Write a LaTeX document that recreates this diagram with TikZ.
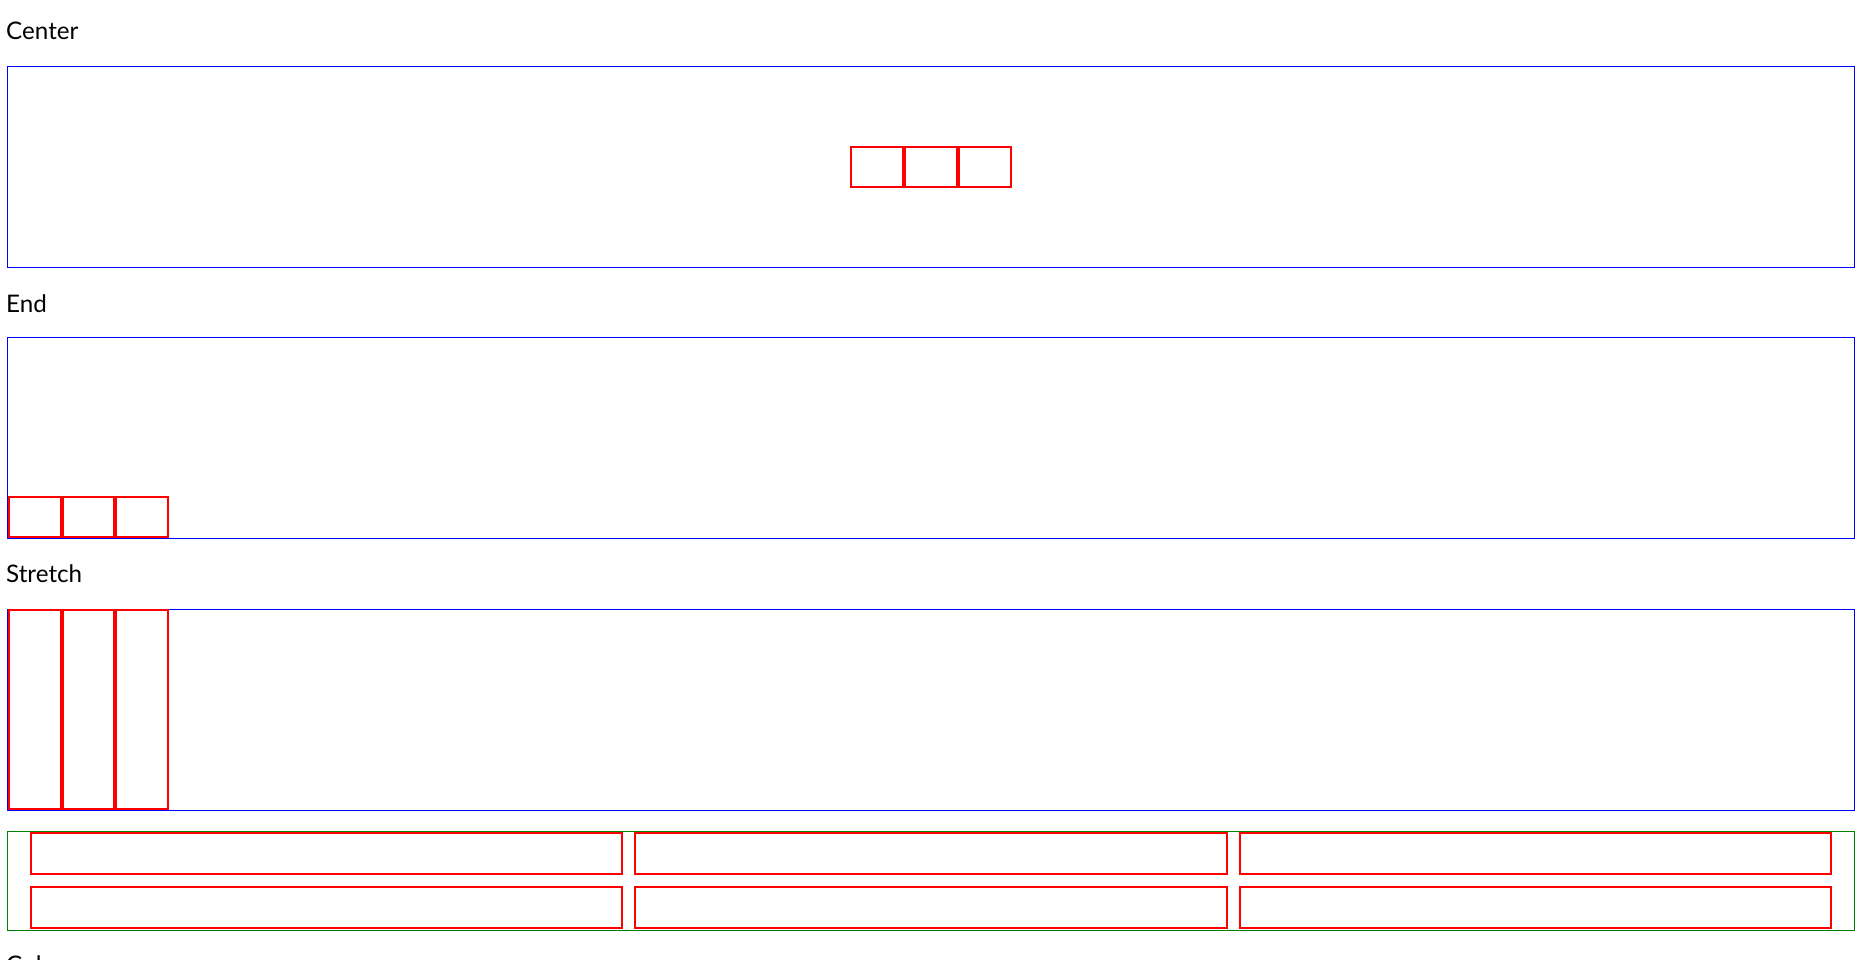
\documentclass[tikz,border=0pt]{standalone}
\usepackage{fontspec}
\setmainfont{Lato}
\usetikzlibrary{positioning}
\definecolor{cssblue}{RGB}{0,0,255}
\definecolor{cssred}{RGB}{255,0,0}
\definecolor{cssgreen}{RGB}{0,128,0}

\begin{document}
\begin{tikzpicture}[
			x=1pt, y=-1pt,
			caption/.style={anchor=base west, inner sep=0pt, font=\fontsize{24.2}{29}\selectfont},
			panel/.style={rectangle, draw=cssblue, line width=1pt, inner sep=0pt, outer sep=0pt, anchor=north west, minimum width=1846.7pt, minimum height=201pt},
			item/.style={rectangle, draw=cssred, line width=2pt, inner sep=0pt, outer sep=1pt, minimum width=51.8pt, minimum height=40.6pt},
			cell/.style={item, minimum width=591.5pt, minimum height=40.5pt}
			]
			\clip (0,0) rectangle (1863,960);
			\fill[white] (0,0) rectangle (1863,960);
			
			% center
			\node[caption] (lblcenter) at (6,40) {Center};
			\node[panel] (pcenter) at (7.8,66.5) {};
			\node[item] (c2) at (pcenter.center) {};
			\node[item, left=0pt of c2] (c1) {};
			\node[item, right=0pt of c2] (c3) {};
			
			% end
			\node[caption] (lblend) at (6,312.3) {End};
			\node[panel] (pend) at (7.8,337.3) {};
			\node[item, anchor=south west] (e1) at (pend.south west) {};
			\node[item, right=0pt of e1] (e2) {};
			\node[item, right=0pt of e2] (e3) {};
			
			% stretch
			\node[caption] (lblstretch) at (6,582.7) {Stretch};
			\node[panel] (pstretch) at (7.8,609.3) {};
			\node[item, minimum height=199pt, anchor=north west] (s1) at (pstretch.north west) {};
			\node[item, minimum height=199pt, right=0pt of s1] (s2) {};
			\node[item, minimum height=199pt, right=0pt of s2] (s3) {};
			
			% grid
			\node[panel, draw=cssgreen, minimum height=98.5pt] (pgrid) at (7.8,831.5) {};
			\node[cell, anchor=north west] (g11) at (29.5,832.0) {};
			\node[cell, right=11pt of g11] (g12) {};
			\node[cell, right=11pt of g12] (g13) {};
			\node[cell, below=11.5pt of g11] (g21) {};
			\node[cell, right=11pt of g21] (g22) {};
			\node[cell, right=11pt of g22] (g23) {};
			
			% column
			\node[caption] (lblcolumn) at (6,973.5) {Column};
		\end{tikzpicture}
\end{document}
